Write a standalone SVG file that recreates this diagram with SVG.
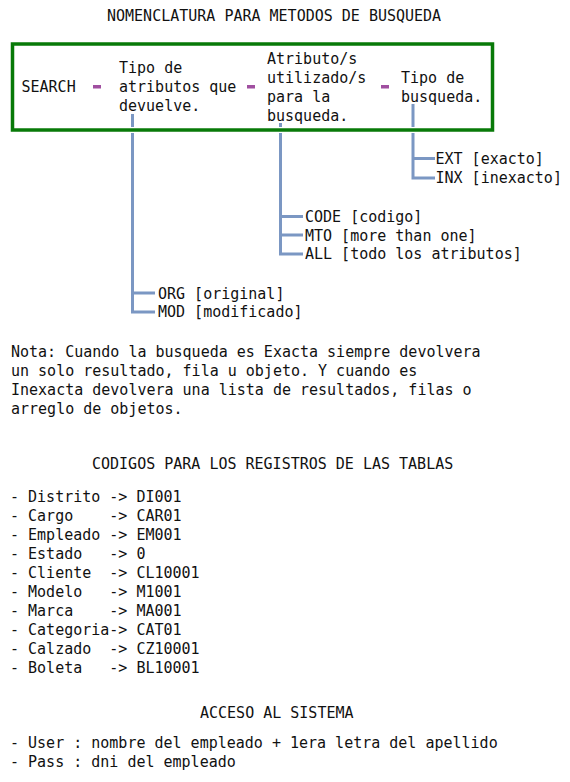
<svg xmlns="http://www.w3.org/2000/svg" width="570" height="782" viewBox="0 0 570 782">
<style>
text{font-family:"DejaVu Sans Mono","Liberation Mono",monospace;font-size:15px;fill:#111;white-space:pre}
.conn{fill:none;stroke:#7b97c3;stroke-width:3}
.dash{fill:#a04fa0}
</style>
<rect width="570" height="782" fill="#fff"/>
<text x="107" y="21">NOMENCLATURA PARA METODOS DE BUSQUEDA</text>
<g id="connectors">
<path class="conn" d="M132.5 114V312H155M132.5 293H155"/>
<path class="conn" d="M280.5 123V254H303M280.5 216.5H303M280.5 235H303"/>
<path class="conn" d="M413 104V178H435M413 158.5H435"/>
</g>
<g id="box">
<rect x="12.5" y="44" width="480" height="86" fill="none" stroke="#fff" stroke-width="6"/>
<rect x="12.5" y="44" width="480" height="86" fill="none" stroke="#087a08" stroke-width="3.5"/>
</g>
<g id="search"><text x="21.5" y="91.5">SEARCH</text></g>
<g id="dashes">
<rect class="dash" x="93" y="85" width="8" height="3.5"/>
<rect class="dash" x="247" y="85" width="8" height="3.5"/>
<rect class="dash" x="381" y="85" width="8" height="3.5"/>
</g>
<g id="tipo-atributos">
<text x="119" y="72.5">Tipo de</text>
<text x="119" y="91.5">atributos que</text>
<text x="119" y="110.5">devuelve.</text>
</g>
<g id="atributos-busqueda">
<text x="267" y="63.5">Atributo/s</text>
<text x="267" y="82.5">utilizado/s</text>
<text x="267" y="101.5">para la</text>
<text x="267" y="120.5">busqueda.</text>
</g>
<g id="tipo-busqueda">
<text x="401" y="82.5">Tipo de</text>
<text x="401" y="101.5">busqueda.</text>
</g>
<g id="ext"><text x="435.5" y="163.5">EXT [exacto]</text></g>
<g id="inx"><text x="435.5" y="183">INX [inexacto]</text></g>
<g id="code"><text x="305" y="222">CODE [codigo]</text></g>
<g id="mto"><text x="305" y="240.5">MTO [more than one]</text></g>
<g id="all"><text x="305" y="259">ALL [todo los atributos]</text></g>
<g id="org"><text x="158" y="298.5">ORG [original]</text></g>
<g id="mod"><text x="158" y="317">MOD [modificado]</text></g>
<g id="nota">
<text x="11" y="357">Nota: Cuando la busqueda es Exacta siempre devolvera</text>
<text x="11" y="376">un solo resultado, fila u objeto. Y cuando es</text>
<text x="11" y="395">Inexacta devolvera una lista de resultados, filas o</text>
<text x="11" y="414">arreglo de objetos.</text>
</g>
<g id="codigos">
<text x="92" y="469">CODIGOS PARA LOS REGISTROS DE LAS TABLAS</text>
<text x="10" y="502" xml:space="preserve">- Distrito -&gt; DI001</text>
<text x="10" y="521" xml:space="preserve">- Cargo    -&gt; CAR01</text>
<text x="10" y="540" xml:space="preserve">- Empleado -&gt; EM001</text>
<text x="10" y="559" xml:space="preserve">- Estado   -&gt; 0</text>
<text x="10" y="578" xml:space="preserve">- Cliente  -&gt; CL10001</text>
<text x="10" y="597" xml:space="preserve">- Modelo   -&gt; M1001</text>
<text x="10" y="616" xml:space="preserve">- Marca    -&gt; MA001</text>
<text x="10" y="635" xml:space="preserve">- Categoria-&gt; CAT01</text>
<text x="10" y="654" xml:space="preserve">- Calzado  -&gt; CZ10001</text>
<text x="10" y="673" xml:space="preserve">- Boleta   -&gt; BL10001</text>
</g>
<g id="acceso">
<text x="200" y="718">ACCESO AL SISTEMA</text>
<text x="10" y="748">- User : nombre del empleado + 1era letra del apellido</text>
<text x="10" y="767">- Pass : dni del empleado</text>
</g>
</svg>
